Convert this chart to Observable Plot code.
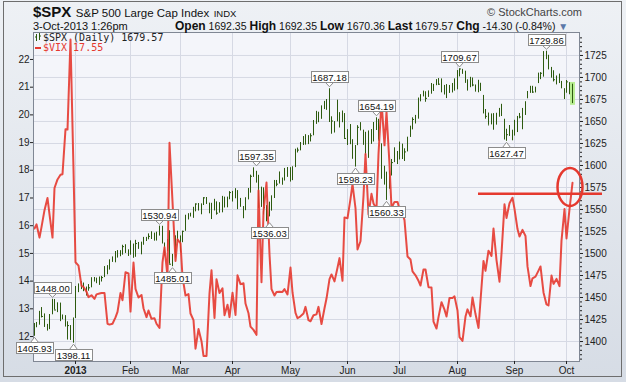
<!DOCTYPE html>
<html><head><meta charset="utf-8">
<script src="https://cdn.jsdelivr.net/npm/d3@7"></script>
<script src="https://cdn.jsdelivr.net/npm/@observablehq/plot@0.6"></script>
<style>
body{margin:0;background:#fff;}
#wrap{position:relative;width:626px;height:382px;overflow:hidden;font-family:"Liberation Sans",Arial,sans-serif;background:linear-gradient(#eef1f5,#d6dce5);}
#wrap svg.plot{position:absolute;left:0;top:0;}
#border{position:absolute;left:3px;top:1px;width:619px;height:376px;border:1px solid #6e6e6e;box-sizing:border-box;pointer-events:none;}
.t{position:absolute;white-space:nowrap;color:#111;}
#legend{position:absolute;left:35px;top:33px;font-family:"DejaVu Sans Mono",monospace;font-size:10px;line-height:10px;color:#222;}
#legend svg{vertical-align:-1px;margin-right:2px;}
</style></head>
<body><div id="wrap"></div>
<script>
// ---- data: S&P 500 daily bars (7-Dec-2012 .. 3-Oct-2013), trading-day index relative to 2-Jan-2013
const firstDay = -16;
const spxHigh = [1420.50,1421.64,1434.27,1438.59,1431.36,1419.45,1430.67,1448.00,1447.75,1443.70,1443.67,1430.15,1429.42,1422.40,1418.10,1426.74,
1462.43,1465.47,1467.94,1466.47,1461.89,1464.73,1472.30,1472.75,1472.05,1473.31,1473.96,1485.16,1485.98,1492.56,1496.13,1502.27,1503.26,1503.23,1509.35,1509.94,1504.19,
1514.41,1510.74,1514.96,1512.53,1512.90,1518.31,1518.31,1522.29,1524.69,1523.14,1524.24,1530.94,1530.94,1511.95,1515.64,1525.84,1498.99,1520.08,1525.34,
1519.99,1525.27,1543.47,1545.25,1545.78,1552.48,1556.27,1556.77,1556.39,1563.32,1563.62,1557.25,1557.04,1561.56,1558.71,1557.74,1564.91,1563.95,1564.07,1570.28,
1570.57,1573.66,1571.47,1562.60,1553.28,1563.07,1573.89,1589.07,1597.35,1593.37,1588.85,1575.35,1574.57,1554.38,1558.33,1565.55,1583.00,1583.00,1592.64,1585.78,1596.65,1597.57,
1597.55,1598.60,1618.46,1619.77,1626.03,1632.78,1635.01,1633.70,1636.00,1651.10,1661.49,1660.51,1667.47,1672.84,1674.93,1687.18,1655.35,1649.78,1674.21,1660.06,1661.91,1658.99,
1640.42,1646.53,1629.31,1622.56,1645.25,1648.69,1640.13,1637.71,1639.25,1640.80,1648.86,1654.19,1652.45,1624.62,1599.19,1592.43,1593.79,1606.83,1620.07,1615.94,
1626.61,1624.26,1618.97,1632.07,1644.68,1654.18,1656.92,1676.63,1680.19,1684.51,1683.73,1684.75,1693.12,1692.09,1697.61,1698.78,1698.38,1690.94,1691.65,1690.92,1693.19,1698.43,
1707.85,1709.67,1709.24,1707.14,1697.37,1700.18,1699.42,1691.49,1696.81,1693.41,1679.61,1663.60,1659.60,1658.59,1658.92,1659.35,1664.85,1669.51,1652.54,1641.18,1645.41,1640.08,
1651.35,1655.72,1659.11,1664.83,1672.40,1684.09,1689.97,1689.97,1688.99,1704.95,1705.52,1729.44,1729.86,1725.23,1711.44,1707.63,1701.71,1703.85,1695.52,1687.26,
1696.55,1693.87,1692.35];
const spxLow = [1405.93,1415.64,1418.55,1426.76,1416.00,1411.88,1413.54,1430.39,1435.80,1432.82,1422.58,1424.66,1416.43,1401.66,1401.58,1398.11,
1426.19,1455.53,1458.99,1456.62,1451.64,1457.15,1461.02,1467.58,1465.69,1463.76,1467.60,1472.63,1475.81,1481.16,1489.90,1489.46,1494.82,1496.33,1498.09,1500.11,1496.76,
1498.11,1495.31,1495.71,1504.71,1498.49,1509.39,1513.61,1515.61,1515.93,1514.02,1514.14,1519.79,1511.41,1497.29,1502.42,1487.85,1485.01,1494.88,1514.46,
1501.48,1512.29,1525.20,1538.11,1541.46,1539.94,1547.36,1548.24,1544.00,1554.52,1555.74,1545.13,1538.57,1548.34,1543.55,1545.80,1546.22,1551.69,1551.90,1561.08,
1558.47,1562.17,1549.80,1552.52,1539.50,1548.63,1560.92,1568.61,1586.48,1579.97,1552.28,1552.36,1543.69,1536.03,1541.61,1548.19,1562.50,1575.80,1578.93,1577.56,1582.34,1586.50,
1581.28,1582.77,1597.60,1614.21,1616.64,1622.70,1623.09,1623.71,1626.74,1633.75,1646.68,1648.60,1652.45,1663.52,1662.67,1648.86,1635.53,1636.88,1649.60,1642.62,1648.61,1630.74,
1622.72,1623.62,1607.09,1598.23,1622.56,1639.26,1622.92,1610.92,1608.07,1623.96,1626.73,1639.77,1628.91,1584.32,1577.70,1560.33,1573.09,1588.03,1603.26,1601.06,
1606.28,1606.77,1604.57,1615.41,1631.89,1640.46,1647.17,1652.63,1672.33,1677.89,1671.84,1677.35,1681.01,1684.08,1690.67,1691.13,1682.57,1680.07,1676.03,1681.86,1682.42,1684.94,
1685.99,1700.68,1703.55,1693.29,1684.51,1688.38,1689.43,1683.35,1682.62,1684.61,1658.59,1652.61,1645.84,1646.13,1640.08,1645.84,1654.81,1656.02,1629.05,1627.47,1633.00,1628.05,
1633.41,1637.41,1653.07,1640.62,1656.85,1675.79,1681.96,1681.96,1682.43,1693.07,1697.53,1700.35,1720.20,1708.89,1699.22,1694.90,1691.88,1693.11,1687.11,1674.99,
1682.07,1680.34,1670.36];
const spxClose = [1418.07,1418.55,1427.84,1428.48,1419.45,1413.58,1430.36,1446.79,1435.81,1443.69,1430.15,1426.66,1419.83,1418.10,1402.43,1426.19,
1462.42,1459.37,1466.47,1461.89,1457.15,1461.02,1472.12,1472.05,1470.68,1472.34,1472.63,1480.94,1485.98,1492.56,1494.81,1494.82,1502.96,1500.18,1507.84,1501.96,1498.11,
1513.17,1495.71,1511.29,1512.12,1509.39,1517.93,1517.01,1519.43,1520.33,1521.38,1519.79,1530.94,1511.95,1502.42,1515.60,1487.85,1496.94,1515.99,1514.68,
1518.20,1525.20,1539.79,1541.46,1544.26,1551.18,1556.22,1552.48,1554.52,1563.23,1560.70,1552.10,1548.34,1558.71,1545.80,1556.89,1551.69,1563.77,1562.85,1569.19,
1562.17,1570.25,1553.69,1559.98,1553.28,1563.07,1568.61,1587.73,1593.37,1588.85,1552.36,1574.57,1552.01,1541.61,1555.25,1562.50,1578.78,1578.79,1585.16,1582.24,1593.61,1597.57,
1582.70,1597.59,1614.42,1617.50,1625.96,1632.69,1626.67,1633.70,1633.77,1650.34,1658.78,1650.47,1667.47,1666.29,1669.16,1655.35,1650.51,1649.60,1660.06,1648.36,1654.41,1630.74,
1640.42,1631.38,1608.90,1622.56,1643.38,1642.81,1626.13,1612.52,1636.36,1626.73,1639.04,1651.81,1628.93,1588.19,1592.43,1573.09,1588.03,1603.26,1613.20,1606.28,
1614.96,1614.08,1615.41,1631.89,1640.46,1652.32,1652.62,1675.02,1680.19,1682.50,1676.26,1680.91,1689.37,1692.09,1695.53,1692.39,1685.94,1690.25,1691.65,1685.33,1685.96,1685.73,
1706.87,1709.67,1707.14,1697.37,1690.91,1697.48,1691.42,1689.47,1694.16,1685.39,1661.32,1655.83,1646.06,1652.35,1642.80,1656.96,1663.50,1656.78,1630.48,1634.96,1638.17,1632.97,
1639.77,1653.08,1655.08,1655.17,1671.71,1683.99,1689.13,1683.42,1687.99,1697.60,1704.76,1725.52,1722.34,1709.91,1701.84,1697.42,1692.77,1698.67,1691.75,1681.55,
1695.00,1693.87,1679.57];
// ---- data: $VIX daily close, same days
const vix = [15.90,16.05,15.57,15.95,16.56,17.00,16.41,15.57,17.36,17.67,17.84,17.86,19.48,19.47,22.72,18.02,
14.68,14.56,13.83,13.79,13.62,13.42,13.49,13.36,13.52,13.55,13.57,13.57,12.46,12.43,12.46,12.69,12.89,13.57,13.31,14.32,14.28,
12.90,14.67,13.72,13.41,13.50,13.02,12.70,12.94,12.64,12.66,12.46,12.31,14.68,15.22,14.17,18.99,16.87,14.73,15.51,
15.36,14.15,13.48,13.53,12.83,12.59,11.56,12.27,11.83,11.30,11.30,13.56,14.39,12.67,14.07,13.57,13.74,12.77,13.15,12.70,
13.58,12.78,14.21,13.89,13.92,13.19,12.84,12.36,12.24,12.06,17.27,13.96,16.51,17.56,14.97,13.71,13.48,13.61,13.62,13.61,13.71,13.52,
14.49,13.59,12.85,12.66,12.73,12.83,13.07,12.59,12.55,12.77,12.80,13.07,12.45,13.02,13.37,14.07,14.24,13.99,14.48,14.83,14.01,16.30,
16.27,16.97,17.50,16.63,15.14,15.44,17.07,18.59,16.41,17.15,16.80,16.61,18.59,20.49,18.90,20.11,18.21,16.64,16.86,16.86,
16.60,16.44,16.20,14.89,14.78,14.35,14.21,14.01,13.84,14.42,14.42,13.78,13.77,12.54,12.29,12.70,13.24,12.97,12.72,13.39,13.39,13.45,
12.94,11.98,11.84,12.72,12.98,12.73,13.41,12.81,12.31,13.30,14.73,14.37,15.10,14.91,15.90,14.76,13.98,14.99,16.77,16.28,16.81,17.01,
16.61,15.88,15.61,15.85,15.63,14.53,13.82,14.10,14.16,14.38,14.53,13.59,13.16,13.12,14.20,13.90,14.08,13.82,15.46,16.60,
15.54,16.60,17.55];

// ---- axes / ticks
const monthLabels = ["2013","Feb","Mar","Apr","May","Jun","Jul","Aug","Sep","Oct"];
const monthStart  = [0,21,40,60,82,104,124,146,168,188];
const spxTicks = [1400,1425,1450,1475,1500,1525,1550,1575,1600,1625,1650,1675,1700,1725];
const vixTicks = [12,13,14,15,16,17,18,19,20,21,22];
// alignment of the left ($VIX) axis against the right ($SPX) axis
const vixAxisRef = {vixA: 12, spxA: 1405.68, vixB: 22, spxB: 1720.45};

// ---- price callouts
const calloutDay   = [-16,-1,-9,32,37,69,74,97,107,115,119,147,165,180];
const calloutValue = [1405.93,1398.11,1448.00,1530.94,1485.01,1597.35,1536.03,1687.18,1598.23,1654.19,1560.33,1709.67,1627.47,1729.86];
const calloutSide  = ["below","below","above","above","below","above","below","above","below","above","below","above","below","above"];

// ---- hand-drawn annotations (VIX units)
const annoLine = {fromDay: 154, toDay: 201.5, vix: 17.15};
const annoCircle = {day: 189.5, vix: 17.38};

// ---- header
const headerSymbol = "$SPX", headerName = "S&P 500 Large Cap Index", headerExch = "INDX";
const headerDate = "3-Oct-2013 1:26pm";
const quoteLabels = ["Open","High","Low","Last","Chg"];
const quoteValues = ["1692.35","1692.35","1670.36","1679.57","-14.30 (-0.84%)"];
const legendSpx = "$SPX (Daily) 1679.57", legendVix = "$VIX 17.55";

const vSlope = (vixAxisRef.spxB - vixAxisRef.spxA) / (vixAxisRef.vixB - vixAxisRef.vixA);
const toSpx = v => vixAxisRef.spxA + (v - vixAxisRef.vixA) * vSlope;
const fromSpx = s => vixAxisRef.vixA + (s - vixAxisRef.spxA) / vSlope;

const rows = spxHigh.map((h, k) => ({i: firstDay + k, h, l: spxLow[k], c: spxClose[k], v: vix[k]}));
const last = rows[rows.length - 1];

const GREEN = "#2d5a0f", RED = "#e5392f", GRID = "#d6d9e4";

function callouts(index, {x, y}) {
  const g = d3.create("svg:g").attr("font-family", "Liberation Sans, Arial, sans-serif").attr("font-size", 9.5);
  calloutDay.forEach((d, k) => {
    const cx = Math.round(x(d)) + 0.5;
    const yv = y(calloutValue[k]);
    const above = calloutSide[k] === "above";
    const w = 37, h = 11;
    const tip = above ? yv - 1.5 : yv + 1.5;
    const edge = above ? Math.round(yv - 6) + 0.5 : Math.round(yv + 6) + 0.5;
    const top = above ? edge - h : edge;
    g.append("rect").attr("x", Math.round(cx - w / 2) + 0.5).attr("y", top).attr("width", w).attr("height", h)
      .attr("fill", "#fff").attr("stroke", "#8c8c8c");
    g.append("path").attr("d", `M${cx - 4},${edge}L${cx},${tip}L${cx + 4},${edge}Z`).attr("fill", "#fff").attr("stroke", "#8c8c8c");
    g.append("text").attr("x", cx).attr("y", top + h / 2 + 0.5).attr("text-anchor", "middle").attr("dominant-baseline", "central")
      .attr("fill", "#111").text(calloutValue[k].toFixed(2));
  });
  return g.node();
}

function circleAnno(index, {x, y}) {
  return d3.create("svg:ellipse").attr("cx", x(annoCircle.day)).attr("cy", y(toSpx(annoCircle.vix)))
    .attr("rx", 12.5).attr("ry", 19).attr("fill", "none").attr("stroke", RED).attr("stroke-width", 2.5).node();
}

const chart = Plot.plot({
  width: 626, height: 382,
  marginTop: 32, marginRight: 47, marginBottom: 21, marginLeft: 33,
  x: {domain: [-16.2, 192.8], round: true},
  y: {domain: [1377.3, 1751.1]},
  style: {background: "transparent", fontFamily: "Liberation Sans, Arial, sans-serif", fontSize: "10px", color: "#222"},
  marks: [
    Plot.frame({fill: "#f4f5fa", stroke: null}),
    Plot.gridY(spxTicks, {stroke: GRID, strokeOpacity: 1}),
    Plot.gridX(monthStart, {stroke: GRID, strokeOpacity: 1}),
    Plot.ruleX([last], {x: "i", y1: d => d.l - 2, y2: d => d.h + 2, stroke: "#b9ee92", strokeWidth: 5}),
    Plot.ruleX(rows, {x: "i", y1: "l", y2: "h", stroke: GREEN, strokeWidth: 1}),
    Plot.ruleY(rows, {y: "c", x1: "i", x2: d => d.i + 0.45, stroke: GREEN, strokeWidth: 1}),
    Plot.line(rows, {x: "i", y: d => toSpx(d.v), stroke: RED, strokeWidth: 2, strokeOpacity: 0.9, strokeLinejoin: "round"}),
    Plot.frame({stroke: "#808794"}),
    Plot.axisY(spxTicks, {anchor: "right", tickSize: 3, tickPadding: 2, fontSize: 10, tickFormat: d => String(d)}),
    Plot.axisY(d3.range(1380, 1750, 5), {anchor: "right", tickSize: 2, tickFormat: () => ""}),
    Plot.axisY(vixTicks.map(toSpx), {anchor: "left", tickSize: 3, tickPadding: 1, fontSize: 10, tickFormat: d => String(Math.round(fromSpx(d)))}),
    Plot.axisX(monthStart.slice(1), {anchor: "bottom", tickSize: 3, tickPadding: 2, fontSize: 10, tickFormat: d => monthLabels[monthStart.indexOf(d)]}),
    Plot.axisX(monthStart.slice(0, 1), {anchor: "bottom", tickSize: 3, tickPadding: 2, fontSize: 10, fontWeight: "bold", tickFormat: () => monthLabels[0]}),
    callouts,
    Plot.ruleY([annoLine], {y: d => toSpx(d.vix), x1: "fromDay", x2: "toDay", stroke: RED, strokeWidth: 2.5}),
    circleAnno
  ]
});
chart.classList.add("plot");
const wrap = document.getElementById("wrap");
wrap.appendChild(chart);

// header
const quoteHtml = quoteLabels.map((l, k) => `<b style="font-size:12px">${l}</b> ${quoteValues[k]}`).join(" ");
wrap.insertAdjacentHTML("beforeend", `
<div class="t" style="left:33px;top:3px;"><b style="font-size:15px">${headerSymbol}</b> <span style="font-size:11.5px">${headerName.replace("&","&amp;")}</span> <span style="font-size:9.5px">${headerExch}</span></div>
<div class="t" style="right:44px;top:6px;font-size:11px;color:#444">© StockCharts.com</div>
<div class="t" style="left:33px;top:20px;font-size:11px">${headerDate}</div>
<div class="t" style="left:175px;top:19px;font-size:10.5px">${quoteHtml} <span style="color:#5a78a8;font-size:10px">▼</span></div>
<div id="legend">
 <div><svg width="6" height="9"><path d="M1.5,1V8M4.5,0V7M0,4H1.5M4.5,3H6" stroke="${GREEN}" fill="none"/></svg>${legendSpx}</div>
 <div style="color:${RED}"><svg width="6" height="9"><path d="M0,5H6" stroke="${RED}" stroke-width="2"/></svg>${legendVix}</div>
</div>
<div id="border"></div>`);
</script>
</body></html>
